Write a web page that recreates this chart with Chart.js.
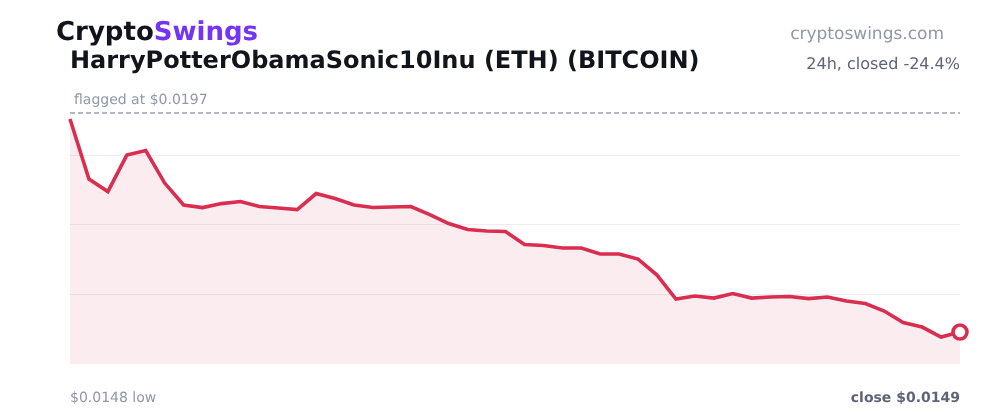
<!DOCTYPE html>
<html>
<head>
<meta charset="utf-8">
<script src="https://cdn.jsdelivr.net/npm/chart.js@4"></script>
<style>
html,body{margin:0;padding:0;background:#fff;width:1000px;height:420px;overflow:hidden}
body{font-family:"DejaVu Sans",sans-serif;position:relative;text-rendering:geometricPrecision}
#wrap{position:absolute;left:0;top:0;width:1000px;height:420px}
.t{position:absolute;white-space:nowrap;line-height:1}
</style>
</head>
<body>
<div id="wrap"><canvas id="c" width="1000" height="420"></canvas></div>
<div class="t" style="left:56px;top:19px;font-size:26px;font-weight:700;color:#12141c">Crypto<span style="color:#7434f8">Swings</span></div>
<div class="t" style="left:70px;top:48px;font-size:24px;font-weight:700;color:#12141c">HarryPotterObamaSonic10Inu (ETH) (BITCOIN)</div>
<div class="t" style="right:56px;top:26px;font-size:17px;color:#9097a8">cryptoswings.com</div>
<div class="t" style="right:40px;top:56px;font-size:16px;color:#5e6478">24h, closed -24.4%</div>
<div class="t" style="left:74px;top:93px;font-size:14px;color:#9097a8">flagged at $0.0197</div>
<div class="t" style="left:70px;top:391px;font-size:14px;color:#9097a8">$0.0148 low</div>
<div class="t" style="right:40px;top:391px;font-size:14px;font-weight:700;color:#5e6478">close $0.0149</div>
<script>
const prices = [0.019569,0.018253,0.017979,0.018779,0.018878,0.018166,0.017684,0.017629,0.017716,0.01776,0.017651,0.017618,0.017585,0.017936,0.017826,0.017684,0.017629,0.01764,0.017651,0.017475,0.017278,0.017147,0.017114,0.017103,0.016818,0.016796,0.016741,0.016741,0.01661,0.01661,0.0165,0.016149,0.015623,0.015689,0.015645,0.015744,0.015645,0.015667,0.015678,0.015634,0.015667,0.015579,0.015525,0.01536,0.015108,0.01501,0.01479,0.0149];
const categories = prices.map((_, i) => i);
const flaggedPrice = 0.0197;
const gridValues = [0.01572,0.01725,0.01878];
const yMin = 0.0142;
const yMax = 0.020644;

new Chart(document.getElementById('c'), {
  type: 'line',
  data: {
    labels: categories,
    datasets: [
      {
        data: prices,
        borderColor: '#d92e50',
        borderWidth: 3.6,
        backgroundColor: 'rgba(199,44,77,0.09)',
        fill: 'start',
        tension: 0,
        clip: false,
        order: 1,
        pointRadius: ctx => ctx.dataIndex === prices.length - 1 ? 7 : 0,
        pointHoverRadius: 0,
        pointBackgroundColor: '#ffffff',
        pointBorderColor: '#d92e50',
        pointBorderWidth: 3.6
      },
      {
        data: categories.map(() => flaggedPrice),
        borderColor: '#9a9fb6',
        borderWidth: 1.5,
        borderDash: [5, 3],
        pointRadius: 0,
        fill: false,
        order: 2
      }
    ]
  },
  options: {
    responsive: false,
    animation: false,
    layout: { padding: { left: 70, right: 40, top: 70, bottom: 56 } },
    plugins: { legend: { display: false }, tooltip: { enabled: false } },
    scales: {
      x: { display: false, offset: false },
      y: {
        min: yMin,
        max: yMax,
        afterBuildTicks: s => { s.ticks = gridValues.map(value => ({ value })); },
        ticks: { display: false },
        border: { display: false },
        grid: { color: '#eeeef2', lineWidth: 1, drawTicks: false }
      }
    }
  }
});
</script>
</body>
</html>
